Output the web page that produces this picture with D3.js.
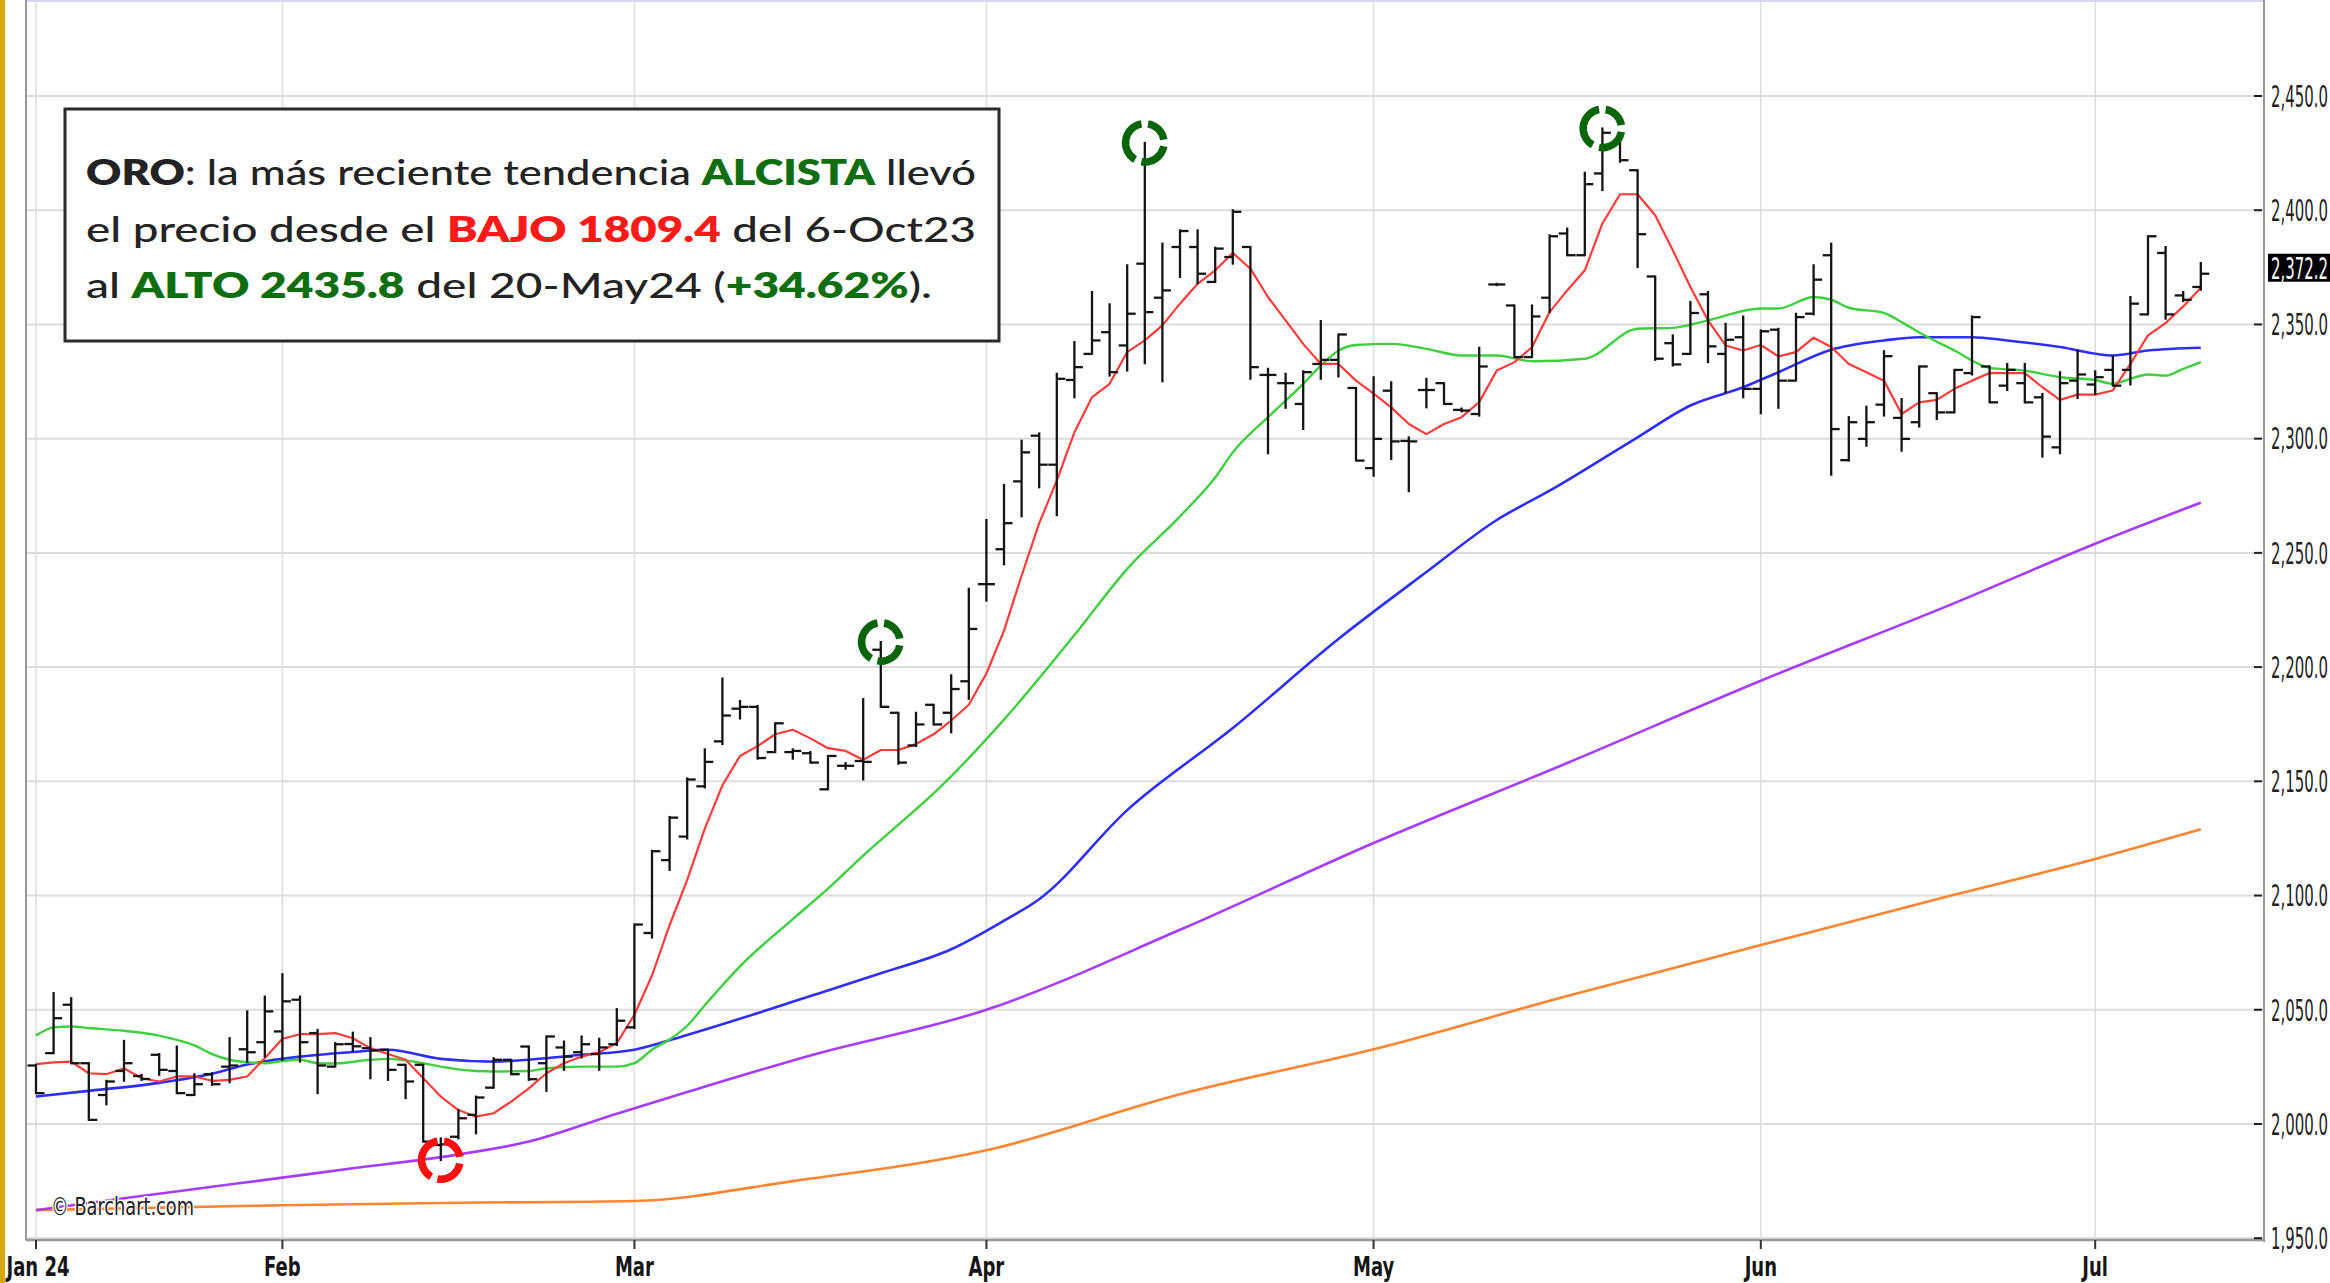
<!DOCTYPE html>
<html>
<head>
<meta charset="utf-8">
<script src="https://cdn.jsdelivr.net/npm/d3@7"></script>
<style>
  html, body { margin: 0; padding: 0; background: #fff; }
  svg { display: block; }
</style>
</head>
<body>
<div id="chart"></div>
<script>
// daily trading sessions shown on the chart
const dates = [
  "2024-01-11","2024-01-12","2024-01-16","2024-01-17","2024-01-18","2024-01-19","2024-01-22","2024-01-23","2024-01-24","2024-01-25",
  "2024-01-26","2024-01-29","2024-01-30","2024-01-31","2024-02-01","2024-02-02","2024-02-05","2024-02-06","2024-02-07","2024-02-08",
  "2024-02-09","2024-02-12","2024-02-13","2024-02-14","2024-02-15","2024-02-16","2024-02-20","2024-02-21","2024-02-22","2024-02-23",
  "2024-02-26","2024-02-27","2024-02-28","2024-02-29","2024-03-01","2024-03-04","2024-03-05","2024-03-06","2024-03-07","2024-03-08",
  "2024-03-11","2024-03-12","2024-03-13","2024-03-14","2024-03-15","2024-03-18","2024-03-19","2024-03-20","2024-03-21","2024-03-22",
  "2024-03-25","2024-03-26","2024-03-27","2024-03-28","2024-04-01","2024-04-02","2024-04-03","2024-04-04","2024-04-05","2024-04-08",
  "2024-04-09","2024-04-10","2024-04-11","2024-04-12","2024-04-15","2024-04-16","2024-04-17","2024-04-18","2024-04-19","2024-04-22",
  "2024-04-23","2024-04-24","2024-04-25","2024-04-26","2024-04-29","2024-04-30","2024-05-01","2024-05-02","2024-05-03","2024-05-06",
  "2024-05-07","2024-05-08","2024-05-09","2024-05-10","2024-05-13","2024-05-14","2024-05-15","2024-05-16","2024-05-17","2024-05-20",
  "2024-05-21","2024-05-22","2024-05-23","2024-05-24","2024-05-28","2024-05-29","2024-05-30","2024-05-31","2024-06-03","2024-06-04",
  "2024-06-05","2024-06-06","2024-06-07","2024-06-10","2024-06-11","2024-06-12","2024-06-13","2024-06-14","2024-06-17","2024-06-18",
  "2024-06-20","2024-06-21","2024-06-24","2024-06-25","2024-06-26","2024-06-27","2024-06-28","2024-07-01","2024-07-02","2024-07-03",
  "2024-07-05","2024-07-08","2024-07-09","2024-07-10"
];

const opens = [
  2025.6,2031.0,2052.2,2026.6,2012.7,2023.2,2021.0,2030.3,2023.2,2012.7,
  2021.8,2025.1,2032.7,2035.8,2040.5,2054.4,2039.8,2025.1,2035.0,2033.2,
  2032.5,2025.9,2025.9,1990.8,1994.4,2004.0,2015.9,2028.1,2033.9,2026.6,
  2033.5,2031.4,2030.6,2034.9,2042.3,2083.6,2115.5,2125.8,2147.8,2167.5,
  2181.8,2182.6,2162.8,2162.8,2162.3,2146.5,2156.8,2158.9,2207.6,2180.0,
  2165.7,2183.5,2180.0,2193.8,2236.3,2251.6,2281.3,2301.3,2288.6,2325.7,
  2337.1,2346.6,2340.8,2376.6,2361.7,2383.9,2383.9,2368.6,2379.5,2383.9,
  2327.9,2324.3,2315.2,2332.7,2334.5,2322.2,2287.1,2321.0,2299.0,2321.3,
  2324.3,2312.6,2310.8,2367.5,2358.3,2335.7,2361.7,2389.8,2380.3,2416.1,
  2429.2,2417.5,2371.0,2341.8,2337.1,2363.2,2337.1,2344.4,2321.8,2347.7,
  2325.4,2354.7,2380.3,2290.6,2299.9,2314.9,2309.1,2307.2,2319.9,2311.5,
  2328.7,2331.6,2323.2,2324.3,2318.1,2296.2,2325.4,2323.7,2330.1,2330.1,
  2354.4,2381.3,2362.7,2366.4
];

const highs = [
  2025.9,2057.3,2055.1,2026.6,2018.9,2036.4,2021.5,2030.6,2033.9,2021.8,
  2022.2,2037.6,2049.3,2055.8,2065.6,2055.8,2041.2,2035.4,2040.0,2037.6,
  2032.5,2025.9,2025.9,1993.7,2006.1,2012.0,2028.8,2028.1,2033.9,2038.3,
  2036.1,2038.3,2037.3,2050.3,2087.3,2119.6,2134.4,2151.3,2164.0,2195.0,
  2185.2,2183.0,2175.4,2164.0,2162.8,2161.1,2158.0,2186.0,2211.0,2180.0,
  2180.0,2183.5,2196.4,2234.3,2264.4,2279.7,2299.1,2302.3,2328.4,2342.3,
  2364.2,2358.8,2375.9,2429.5,2385.4,2391.2,2391.2,2383.6,2400.0,2383.9,
  2330.6,2328.4,2329.5,2351.5,2345.6,2322.2,2326.9,2324.7,2300.6,2326.2,
  2324.3,2313.2,2339.8,2367.8,2358.3,2358.3,2389.0,2392.0,2416.4,2435.8,
  2430.7,2417.5,2371.0,2345.2,2359.8,2364.2,2350.3,2353.5,2347.4,2348.1,
  2354.7,2375.9,2385.4,2309.4,2314.0,2338.3,2317.4,2331.6,2319.9,2330.1,
  2353.5,2331.6,2332.7,2332.7,2319.6,2329.1,2338.6,2329.5,2336.0,2362.0,
  2388.6,2383.9,2364.2,2376.9
];

const lows = [
  2013.5,2031.0,2026.6,2001.8,2008.6,2018.9,2019.3,2021.5,2013.5,2012.7,
  2017.1,2018.3,2027.3,2029.5,2028.1,2027.3,2013.5,2025.1,2032.0,2020.0,
  2019.3,2011.3,1992.3,1984.2,1993.7,1995.9,2015.9,2021.8,2019.3,2014.5,
  2023.7,2029.1,2023.7,2034.6,2042.0,2081.6,2111.2,2125.0,2147.3,2166.3,
  2177.5,2159.9,2162.8,2159.9,2158.2,2146.5,2155.5,2150.8,2182.6,2157.7,
  2165.4,2174.9,2171.4,2186.1,2229.1,2245.0,2266.0,2278.7,2266.5,2318.1,
  2337.1,2327.6,2329.8,2333.0,2325.1,2370.8,2368.1,2368.6,2376.6,2326.2,
  2293.6,2313.5,2304.2,2326.2,2327.2,2290.4,2283.8,2291.1,2277.0,2313.7,
  2315.2,2311.9,2310.1,2367.2,2335.7,2335.7,2355.4,2380.3,2380.3,2408.8,
  2421.2,2375.1,2334.5,2332.0,2337.1,2333.5,2320.3,2318.1,2311.1,2313.5,
  2325.4,2354.4,2284.2,2290.4,2296.9,2310.1,2294.7,2305.3,2308.6,2311.5,
  2328.1,2315.9,2321.3,2315.9,2292.1,2293.6,2317.8,2319.6,2323.2,2323.7,
  2354.4,2352.5,2360.2,2365.2
];

const closes = [
  2013.5,2046.3,2026.6,2001.8,2018.6,2026.6,2019.7,2023.7,2013.5,2017.4,
  2017.4,2025.6,2031.4,2049.3,2053.7,2035.8,2025.6,2034.9,2034.0,2032.2,
  2023.7,2018.6,1992.3,1991.1,2002.5,2011.6,2028.1,2021.8,2019.6,2038.3,
  2029.5,2034.9,2033.5,2045.2,2087.3,2119.4,2134.1,2150.8,2158.5,2178.8,
  2182.6,2160.2,2175.4,2163.3,2158.2,2161.1,2156.8,2158.5,2182.6,2158.2,
  2174.9,2174.9,2190.4,2216.7,2236.3,2263.0,2294.0,2288.6,2326.2,2331.3,
  2343.0,2329.1,2354.7,2355.4,2364.9,2390.9,2372.2,2383.2,2399.3,2331.3,
  2327.9,2324.3,2329.1,2334.5,2345.6,2290.4,2299.9,2298.8,2298.8,2321.3,
  2315.2,2312.3,2331.6,2367.5,2335.7,2353.5,2388.6,2380.3,2411.4,2433.9,
  2421.9,2389.5,2335.0,2332.5,2355.0,2340.4,2343.3,2321.8,2347.0,2325.4,
  2353.2,2369.6,2304.2,2307.2,2307.2,2336.1,2299.9,2331.6,2311.5,2330.1,
  2353.2,2315.9,2330.1,2315.9,2300.9,2324.3,2328.1,2326.9,2323.2,2359.1,
  2388.6,2354.4,2360.8,2372.2
];

// fast moving average (red), one value per session
const maRed = [
  2026.2,2027.0,2027.3,2022.2,2021.8,2024.4,2020.0,2018.6,2020.8,2020.8,
  2018.9,2019.3,2020.8,2028.8,2037.3,2039.3,2039.3,2039.8,2037.5,2033.2,
  2030.6,2028.1,2020.0,2012.0,2006.1,2003.2,2004.7,2009.8,2015.6,2022.2,
  2026.6,2029.5,2031.4,2035.4,2047.8,2065.0,2087.0,2106.9,2129.3,2148.2,
  2161.1,2165.4,2170.6,2172.6,2168.8,2164.5,2163.3,2159.4,2163.7,2163.7,
  2166.3,2170.6,2176.6,2183.5,2197.2,2216.0,2240.0,2263.0,2281.6,2302.8,
  2318.1,2324.0,2337.9,2343.0,2349.6,2359.1,2367.8,2373.7,2381.3,2374.4,
  2362.0,2351.8,2341.5,2332.7,2332.7,2325.4,2319.7,2313.7,2306.4,2302.0,
  2306.4,2309.4,2316.0,2329.8,2333.5,2340.0,2355.4,2364.9,2373.7,2394.2,
  2407.0,2407.0,2397.8,2382.5,2366.4,2351.8,2340.8,2338.6,2341.0,2336.0,
  2337.9,2344.2,2340.1,2332.7,2329.1,2325.4,2310.8,2315.9,2317.0,2321.8,
  2325.4,2328.7,2328.7,2328.7,2322.5,2317.0,2319.3,2319.3,2321.1,2332.7,
  2345.2,2350.6,2357.9,2366.1
];

// slower averages, read at sample sessions: [session number, value]
const maGreen = [
  [1,2038.7],[2,2042.3],[3,2042.7],[4,2042.0],[6,2040.8],[8,2038.7],[9,2036.8],[10,2034.4],
  [11,2030.6],[12,2028.1],[13,2027.0],[14,2026.6],[15,2027.6],[16,2028.1],[17,2026.6],[18,2026.5],
  [20,2028.1],[21,2028.5],[23,2026.6],[24,2025.1],[26,2023.2],[27,2023.0],[29,2023.2],[30,2024.4],
  [32,2025.1],[34,2025.1],[35,2026.6],[36,2032.5],[37,2037.0],[38,2043.0],[39,2052.0],[41,2069.0],
  [44,2089.7],[46,2103.0],[48,2117.5],[50,2131.0],[52,2144.7],[56,2177.0],[60,2214.0],[63,2243.0],
  [66,2266.0],[68,2283.0],[69,2294.0],[71,2309.4],[73,2324.0],[74,2332.0],[75,2338.5],[76,2341.0],
  [78,2341.5],[80,2339.3],[82,2336.4],[84,2336.4],[86,2333.9],[89,2335.0],[92,2348.1],[94,2348.5],
  [96,2351.8],[99,2357.0],[100,2357.0],[102,2362.0],[103,2360.8],[104,2357.3],[106,2355.0],[107,2351.0],
  [108,2346.5],[110,2338.6],[112,2331.0],[114,2329.8],[116,2326.9],[118,2325.7],[119,2324.0],[120,2326.2],
  [121,2328.1],[122,2327.6],[123,2330.6],[124,2333.5]
];

const maBlue = [
  [1,2012.0],[4,2014.5],[8,2018.0],[11,2022.0],[13,2026.0],[16,2029.5],[19,2031.5],[21,2032.5],
  [24,2028.5],[27,2027.3],[30,2028.8],[32,2030.3],[35,2032.5],[38,2039.0],[45,2056.0],[49,2066.0],
  [53,2076.5],[56,2089.0],[58,2098.4],[63,2137.4],[69,2173.3],[75,2212.3],[80,2241.6],[84,2264.4],
  [87,2277.2],[92,2300.6],[95,2314.5],[98,2322.5],[100,2329.1],[103,2338.9],[106,2343.0],[108,2344.4],
  [111,2344.4],[113,2343.0],[116,2340.1],[119,2336.4],[121,2338.6],[124,2339.8]
];

const maPurple = [
  [1,1962.3],[6,1967.5],[11,1972.5],[15,1976.5],[19,1980.6],[24,1985.5],[29,1992.3],[34,2004.5],
  [38,2014.0],[45,2030.0],[55,2050.0],[66,2085.0],[77,2123.0],[88,2158.0],[99,2194.0],[110,2228.0],
  [118,2254.0],[124,2272.0]
];

const maOrange = [
  [1,1962.3],[15,1964.4],[25,1965.5],[35,1966.3],[44,1975.0],[55,1988.5],[66,2013.0],[77,2032.7],
  [88,2056.0],[99,2078.3],[109,2098.4],[118,2116.0],[124,2129.0]
];

// swing points circled on the chart: session number and which extreme
const swingSessions = [24, 49, 64, 90];
const swingKinds = ["low", "high", "high", "high"];

const yTicks = [1950, 2000, 2050, 2100, 2150, 2200, 2250, 2300, 2350, 2400, 2450];
const monthStarts = ["2024-01-11", "2024-02-01", "2024-03-01", "2024-04-01", "2024-05-01", "2024-06-03", "2024-07-01"];
const monthLabels = ["Jan 24", "Feb", "Mar", "Apr", "May", "Jun", "Jul"];

const W = 2330, H = 1283;
const plotLeft = 26, plotRight = 2264, plotBottom = 1240;

const svg = d3.select("#chart").append("svg")
  .attr("width", W)
  .attr("height", H)
  .attr("viewBox", `0 0 ${W} ${H}`);

svg.append("rect").attr("width", W).attr("height", H).attr("fill", "#fff");

const x = d3.scaleLinear()
  .domain([0, dates.length - 1])
  .range([36, 2200.8]);

const y = d3.scaleLinear()
  .domain([1950, 2450])
  .range([1238.2, 96]);

const narrow = "'Liberation Sans Narrow', 'Arial Narrow', 'DejaVu Sans Condensed', sans-serif";

// how much to squeeze a label horizontally so that it is `target` px wide
function squeezeFor(str, size, weight, target) {
  const t = svg.append("text")
    .attr("font-family", narrow).attr("font-size", size).attr("font-weight", weight)
    .text(str);
  const w = t.node().getComputedTextLength();
  t.remove();
  return Math.min(1, target / w);
}

// gridlines
svg.append("g")
  .selectAll("line")
  .data(yTicks)
  .join("line")
  .attr("x1", plotLeft).attr("x2", plotRight)
  .attr("y1", d => y(d)).attr("y2", d => y(d))
  .attr("stroke", "#dcdcdc")
  .attr("stroke-width", 2);

const monthIdx = monthStarts.map(d => dates.indexOf(d));

svg.append("g")
  .selectAll("line")
  .data(monthIdx)
  .join("line")
  .attr("x1", d => x(d)).attr("x2", d => x(d))
  .attr("y1", 0).attr("y2", plotBottom)
  .attr("stroke", "#dcdcdc")
  .attr("stroke-width", 1.5);

// frame
svg.append("line").attr("x1", plotLeft).attr("x2", plotRight).attr("y1", 1).attr("y2", 1)
  .attr("stroke", "#d6d6ee").attr("stroke-width", 2);
svg.append("line").attr("x1", plotLeft).attr("x2", plotLeft).attr("y1", 0).attr("y2", plotBottom)
  .attr("stroke", "#999").attr("stroke-width", 2);
svg.append("line").attr("x1", plotLeft).attr("x2", plotRight).attr("y1", plotBottom).attr("y2", plotBottom)
  .attr("stroke", "#999").attr("stroke-width", 2.5);
svg.append("line").attr("x1", plotRight).attr("x2", plotRight).attr("y1", 0).attr("y2", plotBottom + 2)
  .attr("stroke", "#999").attr("stroke-width", 2);

svg.append("rect").attr("x", 0).attr("y", 0).attr("width", 5).attr("height", H).attr("fill", "#d6a90c");

// moving averages
const seriesLine = d3.line()
  .x(d => x(d[0] - 1))
  .y(d => y(d[1]))
  .curve(d3.curveMonotoneX);

const maLayers = [
  { pts: maOrange, color: "#ff8533", w: 2.6 },
  { pts: maPurple, color: "#a63cff", w: 2.6 },
  { pts: maBlue, color: "#2e2eff", w: 2.6 },
  { pts: maGreen, color: "#3fcf3f", w: 2.4 }
];

maLayers.forEach(m => {
  svg.append("path")
    .datum(m.pts)
    .attr("fill", "none")
    .attr("stroke", m.color)
    .attr("stroke-width", m.w)
    .attr("stroke-linejoin", "round")
    .attr("d", seriesLine);
});

svg.append("path")
  .datum(maRed)
  .attr("fill", "none")
  .attr("stroke", "#ff3b3b")
  .attr("stroke-width", 2.2)
  .attr("stroke-linejoin", "round")
  .attr("d", d3.line().x((d, i) => x(i)).y(d => y(d)));

// OHLC bars
const bars = svg.append("g")
  .attr("stroke", "#141414")
  .attr("stroke-width", 2.3)
  .selectAll("g")
  .data(dates.map((d, i) => i))
  .join("g");

bars.append("line")
  .attr("x1", i => x(i)).attr("x2", i => x(i))
  .attr("y1", i => y(highs[i]) - 1).attr("y2", i => y(lows[i]) + 1);
bars.append("line")
  .attr("x1", i => x(i) - 8.5).attr("x2", i => x(i))
  .attr("y1", i => y(opens[i])).attr("y2", i => y(opens[i]));
bars.append("line")
  .attr("x1", i => x(i)).attr("x2", i => x(i) + 8.5)
  .attr("y1", i => y(closes[i])).attr("y2", i => y(closes[i]));

// dashed rings around the swing points
const ringArc = d3.arc().innerRadius(15.5).outerRadius(23);
const ringPieces = [[0.17, 1.40], [1.75, 3.32], [3.67, 6.11]];

swingSessions.forEach((s, k) => {
  const i = s - 1;
  const v = swingKinds[k] === "low" ? lows[i] : highs[i];
  const col = swingKinds[k] === "low" ? "#ff1010" : "#0a650a";
  const ring = svg.append("g").attr("transform", `translate(${x(i)},${y(v)})`);
  ringPieces.forEach(p => {
    ring.append("path")
      .attr("d", ringArc({ startAngle: p[0], endAngle: p[1] }))
      .attr("fill", col);
  });
});

// right price axis
const yAxis = svg.append("g");
yAxis.selectAll("line")
  .data(yTicks)
  .join("line")
  .attr("x1", plotRight - 10).attr("x2", plotRight - 2)
  .attr("y1", d => y(d)).attr("y2", d => y(d))
  .attr("stroke", "#222").attr("stroke-width", 2);

const priceFmt = d3.format(",.1f");
const ySize = 30;
const yK = squeezeFor("2,450.0", ySize, 400, 57);

yAxis.selectAll("text")
  .data(yTicks)
  .join("text")
  .attr("transform", d => `translate(2271,${y(d)}) scale(${yK},1)`)
  .attr("dy", "0.36em")
  .attr("font-family", narrow)
  .attr("font-size", ySize)
  .attr("fill", "#222")
  .text(d => priceFmt(d));

const lastClose = closes[closes.length - 1];
svg.append("rect")
  .attr("x", 2268).attr("y", y(lastClose) - 20)
  .attr("width", 62).attr("height", 28)
  .attr("fill", "#000");
svg.append("text")
  .attr("transform", `translate(2271,${y(lastClose) - 6}) scale(${yK},1)`)
  .attr("dy", "0.36em")
  .attr("font-family", narrow)
  .attr("font-size", ySize)
  .attr("fill", "#fff")
  .text(priceFmt(lastClose));

// month axis
const xAxis = svg.append("g");
xAxis.selectAll("line")
  .data(monthIdx)
  .join("line")
  .attr("x1", d => x(d)).attr("x2", d => x(d))
  .attr("y1", plotBottom).attr("y2", plotBottom + 9)
  .attr("stroke", "#333").attr("stroke-width", 2);

const xSize = 27;
const xK = squeezeFor("Jan 24", xSize, "bold", 63);

xAxis.selectAll("text")
  .data(monthIdx)
  .join("text")
  .attr("transform", d => `translate(${Math.max(x(d), 38)},1276) scale(${xK},1)`)
  .attr("text-anchor", "middle")
  .attr("font-family", narrow)
  .attr("font-weight", "bold")
  .attr("font-size", xSize)
  .attr("fill", "#151515")
  .text((d, i) => monthLabels[i]);

const creditK = squeezeFor("\u00a9 Barchart.com", 25, 400, 143);
svg.append("text")
  .attr("transform", `translate(51,1215) scale(${creditK},1)`)
  .attr("font-family", narrow)
  .attr("font-size", 25)
  .attr("fill", "#222")
  .attr("stroke", "#fff").attr("stroke-width", 3).attr("paint-order", "stroke")
  .text("\u00a9 Barchart.com");

// annotation box
svg.append("rect")
  .attr("x", 65).attr("y", 109)
  .attr("width", 934).attr("height", 232)
  .attr("fill", "#fff")
  .attr("stroke", "#2b2b2b")
  .attr("stroke-width", 3);

const ink = "#232323", up = "#0f6e0f", down = "#ff1a1a";
const noteLines = [
  [["ORO", ink, 1], [": la más reciente tendencia ", ink, 0], ["ALCISTA", up, 1], [" llevó", ink, 0]],
  [["el precio desde el ", ink, 0], ["BAJO 1809.4", down, 1], [" del 6-Oct23", ink, 0]],
  [["al ", ink, 0], ["ALTO 2435.8", up, 1], [" del 20-May24 (", ink, 0], ["+34.62%", up, 1], [").", ink, 0]]
];
const noteBase = [185, 241.5, 298];
const noteWidth = [890, 890, 846];

// wide geometric lettering: stretch each line to the width it has in the reference
noteLines.forEach((parts, li) => {
  const t = svg.append("text")
    .attr("x", 86)
    .attr("y", noteBase[li])
    .attr("font-family", "Lato, 'Open Sans', sans-serif")
    .attr("font-size", 35)
    .attr("textLength", noteWidth[li])
    .attr("lengthAdjust", "spacingAndGlyphs")
    .style("white-space", "pre");
  parts.forEach(p => {
    t.append("tspan")
      .attr("fill", p[1])
      .attr("font-weight", p[2] ? 800 : 500)
      .text(p[0]);
  });
});
</script>
</body>
</html>
